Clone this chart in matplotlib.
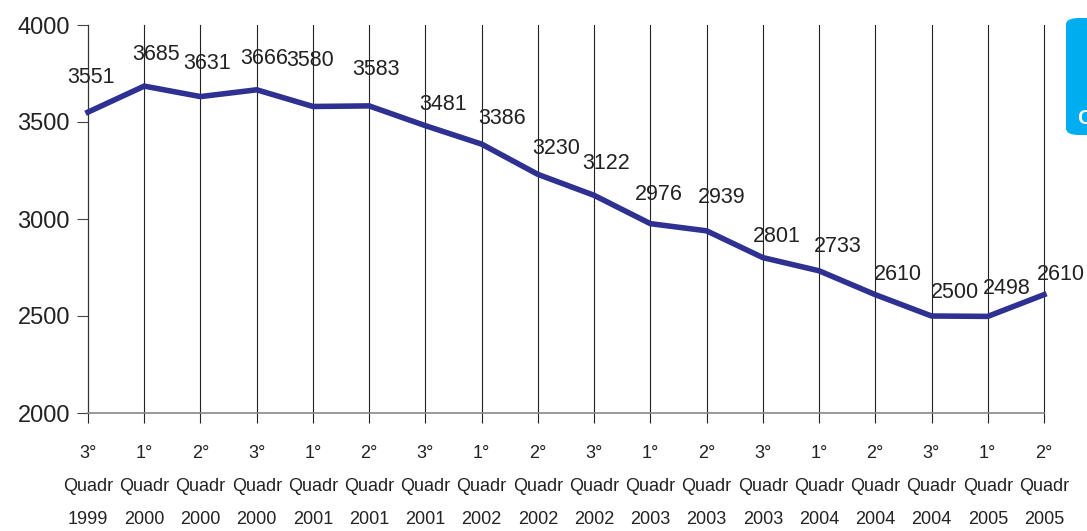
import matplotlib
matplotlib.use("Agg")
import matplotlib.pyplot as plt
from matplotlib.patches import FancyBboxPatch

plt.rcParams['font.family'] = ['Liberation Sans', 'DejaVu Sans']

periods = ["3°", "1°", "2°", "3°", "1°", "2°", "3°", "1°", "2°", "3°",
           "1°", "2°", "3°", "1°", "2°", "3°", "1°", "2°"]
years = ["1999", "2000", "2000", "2000", "2001", "2001", "2001", "2002", "2002",
         "2002", "2003", "2003", "2003", "2004", "2004", "2004", "2005", "2005"]
values = [3551, 3685, 3631, 3666, 3580, 3583, 3481, 3386, 3230, 3122,
          2976, 2939, 2801, 2733, 2610, 2500, 2498, 2610]

# label offsets in pixels (style only)
label_dx = [3, 12, 7, 7, -3, 7, 18, 20, 18, 12, 8, 15, 14, 19, 23, 23, 19, 17]
label_dy = [35, 32, 33, 31, 46, 36, 21, 26, 26, 32, 29, 33, 21, 24, 20, 24, 28, 20]

W, H = 1087, 531
fig = plt.figure(figsize=(W / 100, H / 100), dpi=100)
ax = fig.add_axes([88 / W, 1 - 413 / H, (1044 - 88) / W, (413 - 25) / H])

x = list(range(len(values)))
line_color = "#2E3192"
ax.plot(x, values, color=line_color, lw=4.0, solid_joinstyle='miter', zorder=3, clip_on=False)

for xi in x:
    ax.axvline(xi, color="#222222", lw=0.8, zorder=1, clip_on=False)

for xi, v, dx, dy in zip(x, values, label_dx, label_dy):
    ax.annotate(str(v), (xi, v), xytext=(dx, dy), textcoords='offset pixels',
                ha='center', va='center', fontsize=15.5, color="#222222", zorder=4)

ax.set_xlim(0, len(values) - 1)
ax.set_ylim(2000, 4000)
ax.set_yticks([2000, 2500, 3000, 3500, 4000])
ax.set_xticks(x)
ax.set_xticklabels([f"{p}\nQuadr\n{y}" for p, y in zip(periods, years)],
                   fontsize=13, linespacing=2.25, color="#222222")
ax.tick_params(axis='x', length=7, width=0.8, color="#222222", pad=16)
ax.tick_params(axis='y', length=8, width=0.8, color="#444444", labelsize=17, pad=5,
               labelcolor="#222222")

for s in ['top', 'right']:
    ax.spines[s].set_visible(False)
ax.spines['left'].set_color("#333333")
ax.spines['left'].set_linewidth(0.8)
ax.spines['bottom'].set_color("#888888")
ax.spines['bottom'].set_linewidth(1.2)

# partially visible blue box at right edge
box = FancyBboxPatch((1066 / W, 1 - 135 / H), 60 / W, 117 / H,
                     boxstyle="round,pad=0,rounding_size=0.012",
                     transform=fig.transFigure, facecolor="#00AEEF",
                     edgecolor="none", zorder=0)
fig.patches.append(box)
fig.text(1077 / W, 1 - 118 / H, "C", color="white", fontsize=15,
         fontweight='bold', va='center', ha='left')

fig.savefig("out.png", dpi=100)
